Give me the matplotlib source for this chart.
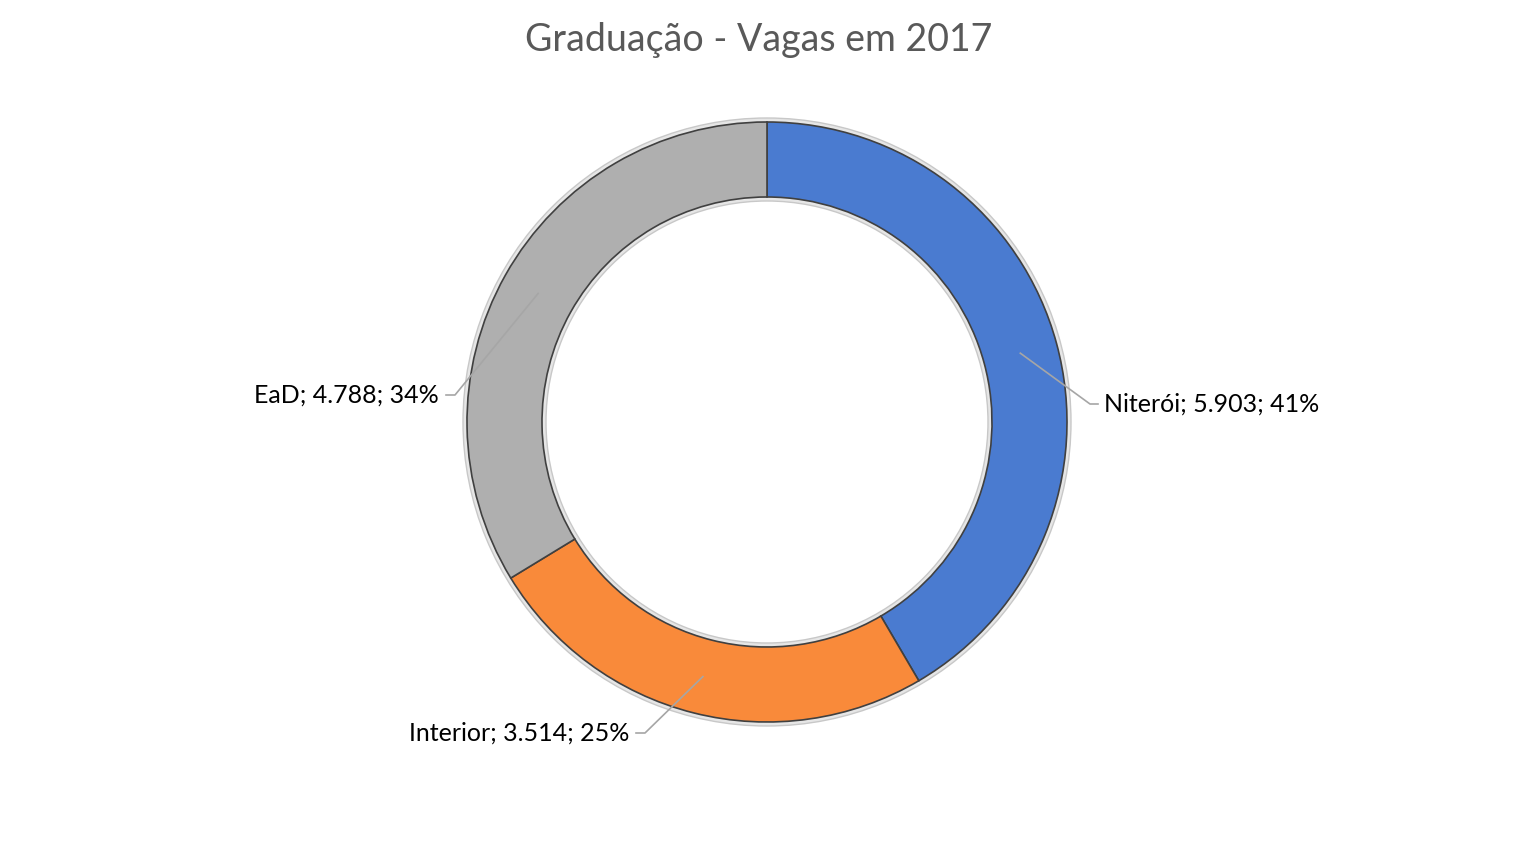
import numpy as np
import matplotlib.pyplot as plt

categorias = ['Niterói', 'Interior', 'EaD']
vagas = [5903, 3514, 4788]
percentuais = ['41%', '25%', '34%']
cores = ['#4A7BD0', '#F98A3A', '#AFAFAF']

W, H = 1517, 842
fig = plt.figure(figsize=(W / 100, H / 100), dpi=100)
ax = fig.add_axes([0, 0, 1, 1])
ax.set_xlim(0, W)
ax.set_ylim(0, H)
ax.set_aspect('equal')
ax.axis('off')

cx, cy = 767, H - 422
R = 300
largura = 75

# anel claro por fora (efeito de bisel)
ax.pie([1], radius=R + 4, center=(cx, cy), colors=['#E6E6E6'],
       wedgeprops=dict(width=largura + 8, edgecolor='#C8C8C8', linewidth=1))
wedges, _ = ax.pie(vagas, radius=R, center=(cx, cy), colors=cores,
                   startangle=90, counterclock=False,
                   wedgeprops=dict(width=largura, edgecolor='#404040', linewidth=1.2))
ax.set_xlim(0, W)
ax.set_ylim(0, H)

def fmt(v):
    return f'{v:,}'.replace(',', '.')

# posicao dos rotulos (deslocamento em relacao ao centro)
rotulos_xy = [(337, 18), (-138, -311), (-328, 27)]
for w, cat, v, p, (lx, ly) in zip(wedges, categorias, vagas, percentuais, rotulos_xy):
    ang = np.deg2rad((w.theta1 + w.theta2) / 2)
    r0 = R - largura / 2
    x0, y0 = cx + r0 * np.cos(ang), cy + r0 * np.sin(ang)
    tx, ty = cx + lx, cy + ly
    if lx > 0:
        xs = [x0, tx - 14, tx - 6]
        ha, xt = 'left', tx
    else:
        xs = [x0, tx + 16, tx + 7]
        ha, xt = 'right', tx
    ax.plot(xs, [y0, ty, ty], color='#A6A6A6', lw=1.2)
    ax.text(xt, ty, f'{cat}; {fmt(v)}; {p}', ha=ha, va='center',
            fontsize=18, family=['Lato', 'DejaVu Sans'], color='#000000')

fig.text(759 / W, 1 - 40 / H, 'Graduação - Vagas em 2017', ha='center', va='center',
         fontsize=27, family=['Lato', 'DejaVu Sans'], color='#595959')

fig.savefig('out.png', dpi=100, facecolor='white')
